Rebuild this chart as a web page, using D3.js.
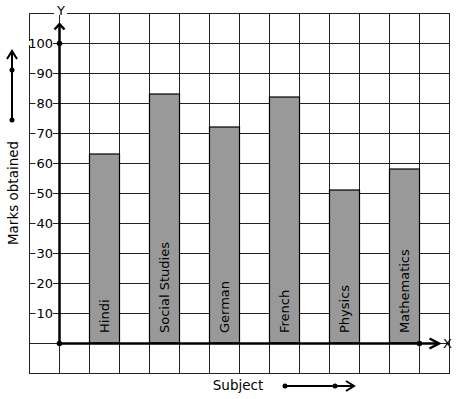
<!DOCTYPE html>
<html>
<head>
<meta charset="utf-8">
<script src="https://cdn.jsdelivr.net/npm/d3@7"></script>
<style>
  body { margin: 0; background: #fff; }
  text { font-family: "DejaVu Sans", sans-serif; font-size: 13px; fill: #000; }
  text.titre { font-size: 13.5px; }
</style>
</head>
<body>
<div id="chart"></div>
<script>
// données
var subjects = ["Hindi", "Social Studies", "German", "French", "Physics", "Mathematics"];
var marks = [63, 83, 72, 82, 51, 58];
var yTicks = [10, 20, 30, 40, 50, 60, 70, 80, 90, 100];

var W = 457, H = 399;
var svg = d3.select("#chart").append("svg")
    .attr("width", W)
    .attr("height", H);

// grille : une case = 1 unité en x, 10 en y
var x = d3.scaleLinear().domain([-1, 13]).range([29, 449]);
var y = d3.scaleLinear().domain([-10, 110]).range([373, 13]);

var grid = svg.append("g").attr("stroke", "#222").attr("stroke-width", 1);
d3.range(-1, 14).forEach(function(i) {
    grid.append("line")
        .attr("x1", x(i) + 0.5).attr("x2", x(i) + 0.5)
        .attr("y1", y(110)).attr("y2", y(-10));
});
d3.range(-10, 111, 10).forEach(function(v) {
    grid.append("line")
        .attr("x1", x(-1)).attr("x2", x(13) + 1)
        .attr("y1", y(v) + 0.5).attr("y2", y(v) + 0.5);
});

// barres
svg.selectAll("rect.bar")
    .data(marks)
    .enter().append("rect")
    .attr("class", "bar")
    .attr("x", function(d, i) { return x(2 * i + 1) + 0.5; })
    .attr("width", function(d, i) { return x(2 * i + 2) - x(2 * i + 1); })
    .attr("y", function(d) { return y(d); })
    .attr("height", function(d) { return y(0) - y(d); })
    .attr("fill", "#999")
    .attr("stroke", "#000")
    .attr("stroke-width", 1.2);

// étiquettes dans les barres
svg.selectAll("text.lbl")
    .data(subjects)
    .enter().append("text")
    .attr("class", "lbl")
    .attr("transform", function(d, i) {
        return "translate(" + (x(2 * i + 1.5) + 0.5) + "," + (y(0) - 10) + ") rotate(-90)";
    })
    .attr("dy", "0.35em")
    .text(function(d) { return d; });

// graduations avec fond blanc
var ticks = svg.append("g");
yTicks.forEach(function(v) {
    var t = ticks.append("text")
        .attr("x", x(-0.2))
        .attr("y", y(v) + 5)
        .attr("text-anchor", "end")
        .text(v);
    var b = t.node().getBBox();
    ticks.insert("rect", "text")
        .attr("x", b.x - 1).attr("y", y(v) - 2)
        .attr("width", b.width + 1).attr("height", 4)
        .attr("fill", "#fff");
});

// axes
var axes = svg.append("g").attr("stroke", "#000").attr("stroke-width", 2.5).attr("fill", "none");
axes.append("line")
    .attr("x1", x(0) + 0.5).attr("x2", x(0) + 0.5)
    .attr("y1", y(0)).attr("y2", y(106) + 1);
axes.append("path")
    .attr("d", "M" + (x(0) - 4.5) + "," + (y(104.5)) + "L" + (x(0) + 0.5) + "," + (y(106.3)) + "L" + (x(0) + 5.5) + "," + y(104.5));
axes.append("line")
    .attr("x1", x(0)).attr("x2", x(12.65))
    .attr("y1", y(0) + 0.5).attr("y2", y(0) + 0.5);
axes.append("path")
    .attr("d", "M" + x(12.35) + "," + (y(0) - 4.5) + "L" + x(12.67) + "," + (y(0) + 0.5) + "L" + x(12.35) + "," + (y(0) + 5.5));

var dots = [[0, 0], [0, 100], [12, 0]];
svg.selectAll("circle.pt")
    .data(dots)
    .enter().append("circle")
    .attr("class", "pt")
    .attr("cx", function(d) { return x(d[0]) + 0.5; })
    .attr("cy", function(d) { return y(d[1]) + 0.5; })
    .attr("r", 2.8)
    .attr("fill", "#000");

// noms des axes
var yl = svg.append("text").attr("x", x(0) + 2).attr("y", 15).attr("text-anchor", "middle").text("Y");
var yb = yl.node().getBBox();
svg.insert("rect", "text").attr("x", yb.x - 2).attr("y", 11).attr("width", yb.width + 4).attr("height", 4).attr("fill", "#fff");
svg.append("text").attr("x", x(12.95)).attr("y", y(0) + 5).attr("text-anchor", "middle").text("X");

svg.append("text")
    .attr("class", "titre")
    .attr("transform", "translate(13," + 193 + ") rotate(-90)")
    .attr("text-anchor", "middle")
    .attr("dy", "0.35em")
    .text("Marks obtained");
svg.append("text")
    .attr("class", "titre")
    .attr("x", 238).attr("y", 390)
    .attr("text-anchor", "middle")
    .text("Subject");

// flèches de légende
var leg = svg.append("g").attr("stroke", "#000").attr("stroke-width", 2).attr("fill", "none");
leg.append("line").attr("x1", 12).attr("x2", 12).attr("y1", 120).attr("y2", 52);
leg.append("path").attr("d", "M7,59L12,51L17,59");
leg.append("line").attr("x1", 285).attr("x2", 353).attr("y1", 386).attr("y2", 386);
leg.append("path").attr("d", "M346,381L354,386L346,391");
[[12, 120], [12, 70], [285, 386], [335, 386]].forEach(function(p) {
    svg.append("circle").attr("cx", p[0]).attr("cy", p[1]).attr("r", 2.5).attr("fill", "#000");
});
</script>
</body>
</html>
